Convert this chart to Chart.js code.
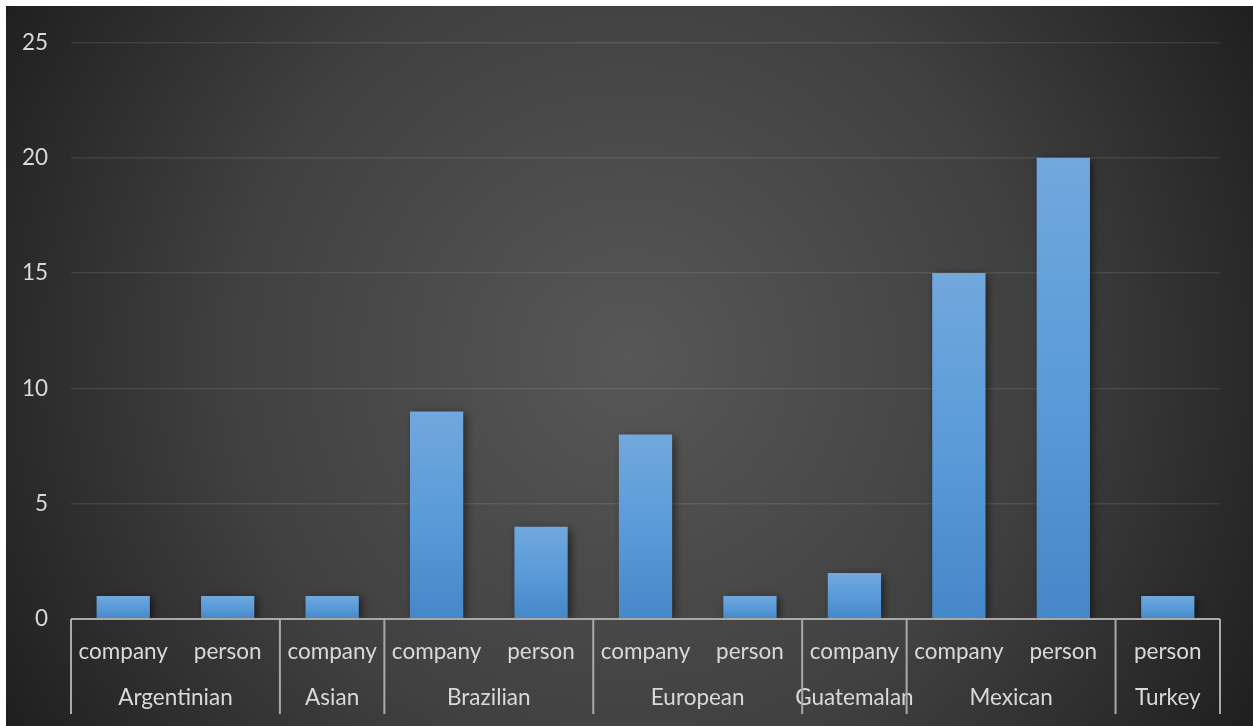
<!DOCTYPE html>
<html>
<head>
<meta charset="utf-8">
<script src="https://cdn.jsdelivr.net/npm/chart.js@4/dist/chart.umd.min.js"></script>
<style>
  html, body { margin: 0; padding: 0; background: #ffffff; }
  #wrap { position: absolute; left: 6px; top: 6px; width: 1247px; height: 720px; }
</style>
</head>
<body>
<div id="wrap"><canvas id="c" width="1247" height="720"></canvas></div>
<script>
// Origin groups and how many sub-categories each one spans
const groupNames = ['Argentinian', 'Asian', 'Brazilian', 'European', 'Guatemalan', 'Mexican', 'Turkey'];
const groupSizes = [2, 1, 2, 2, 1, 2, 1];
// Sub-category of each bar, left to right
const subLabels = ['company', 'person', 'company', 'company', 'person', 'company', 'person', 'company', 'company', 'person', 'person'];
// Count per bar
const counts = [1, 1, 1, 9, 4, 8, 1, 2, 15, 20, 1];
// Value axis ticks
const yTicks = [0, 5, 10, 15, 20, 25];

const FONT = 'Lato, "Open Sans", sans-serif';
const FONT_SIZE = 22.5;
const TEXT = '#d9d9d9';
const AXIS = '#a9a9a9';

// Dark radial backdrop behind everything
const backdrop = {
  id: 'backdrop',
  beforeDraw(chart) {
    const { ctx, width, height } = chart;
    const cx = width * 0.5, cy = height * 0.49;
    const g = ctx.createRadialGradient(cx, cy, 0, cx, cy, 730);
    g.addColorStop(0, '#575757');
    g.addColorStop(0.55, '#404040');
    g.addColorStop(1, '#1e1e1e');
    ctx.save();
    ctx.fillStyle = g;
    ctx.fillRect(0, 0, width, height);
    ctx.restore();
  }
};

// Soft shadow under the bars
const barShadow = {
  id: 'barShadow',
  beforeDatasetsDraw(chart) {
    const ctx = chart.ctx;
    ctx.save();
    ctx.shadowColor = 'rgba(0,0,0,0.55)';
    ctx.shadowBlur = 9;
    ctx.shadowOffsetX = 3;
    ctx.shadowOffsetY = 2;
  },
  afterDatasetsDraw(chart) {
    chart.ctx.restore();
  }
};

// Category axis line, group separators and group names
const groupAxis = {
  id: 'groupAxis',
  afterDatasetsDraw(chart) {
    const { ctx } = chart;
    const x = chart.scales.x;
    const y0 = chart.scales.y.getPixelForValue(0);
    const bottom = y0 + 95;
    ctx.save();
    ctx.strokeStyle = AXIS;
    ctx.lineWidth = 2;
    ctx.beginPath();
    ctx.moveTo(x.left, y0);
    ctx.lineTo(x.right, y0);
    ctx.stroke();

    const half = (x.getPixelForValue(1) - x.getPixelForValue(0)) / 2;
    let start = 0;
    const edges = [x.left];
    ctx.fillStyle = TEXT;
    ctx.font = FONT_SIZE + 'px ' + FONT;
    ctx.textAlign = 'center';
    ctx.textBaseline = 'middle';
    groupNames.forEach((name, i) => {
      const end = start + groupSizes[i] - 1;
      const l = x.getPixelForValue(start) - half;
      const r = x.getPixelForValue(end) + half;
      edges.push(r);
      ctx.fillText(name, (l + r) / 2, y0 + 79);
      start = end + 1;
    });
    ctx.beginPath();
    edges.forEach(px => {
      ctx.moveTo(px, y0);
      ctx.lineTo(px, bottom);
    });
    ctx.stroke();
    ctx.restore();
  }
};

// Vertical light-to-dark fill for each bar
function barFill(c) {
  const chart = c.chart;
  if (!chart.chartArea || c.dataIndex === undefined) return '#5b9bd5';
  const ys = chart.scales.y;
  const top = ys.getPixelForValue(counts[c.dataIndex]);
  const base = ys.getPixelForValue(0);
  const g = chart.ctx.createLinearGradient(0, top, 0, base);
  g.addColorStop(0, '#71a8dd');
  g.addColorStop(0.5, '#5a9bd8');
  g.addColorStop(1, '#4587c8');
  return g;
}

new Chart(document.getElementById('c'), {
  type: 'bar',
  data: {
    labels: subLabels,
    datasets: [{
      data: counts,
      backgroundColor: barFill,
      borderWidth: 0,
      barPercentage: 0.51,
      categoryPercentage: 1
    }]
  },
  options: {
    responsive: false,
    animation: false,
    layout: { padding: { top: 35, right: 33, left: 0, bottom: 0 } },
    plugins: { legend: { display: false }, tooltip: { enabled: false } },
    scales: {
      x: {
        grid: { display: false, drawTicks: false },
        border: { display: false },
        ticks: {
          color: TEXT,
          font: { family: FONT, size: FONT_SIZE },
          padding: 19,
          maxRotation: 0,
          autoSkip: false
        },
        afterFit(s) { s.height = 107; }
      },
      y: {
        min: 0,
        max: 25,
        afterBuildTicks(s) { s.ticks = yTicks.map(v => ({ value: v })); },
        grid: { color: 'rgba(255,255,255,0.09)', lineWidth: 1.5, drawTicks: false },
        border: { display: false },
        ticks: {
          color: TEXT,
          font: { family: FONT, size: FONT_SIZE },
          padding: 23
        },
        afterFit(s) { s.width = 65; }
      }
    }
  },
  plugins: [backdrop, barShadow, groupAxis]
});
</script>
</body>
</html>
